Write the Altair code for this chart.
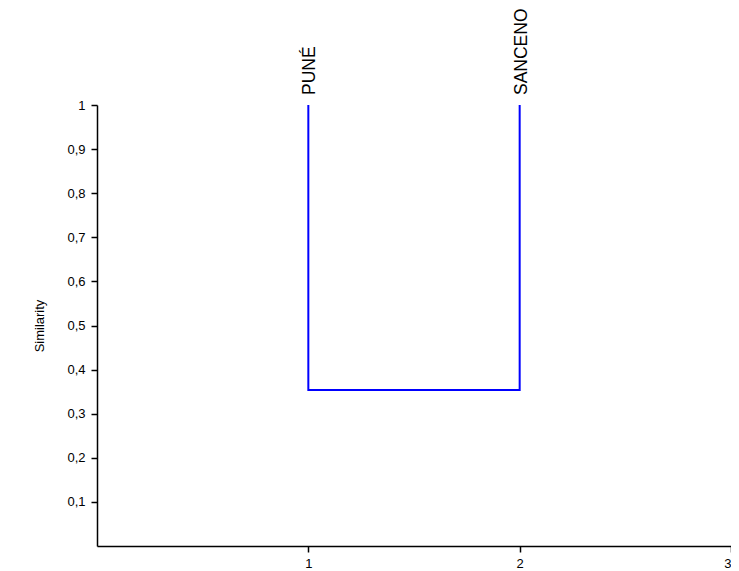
import altair as alt
import pandas as pd

# Leaves of the dendrogram and the merge similarity
leaf_names = ["PUNÉ", "SANCENO"]
leaf_pos = [1, 2]
leaf_sim = [1.0, 1.0]
merge_sim = 0.354

y_ticks = [0.1, 0.2, 0.3, 0.4, 0.5, 0.6, 0.7, 0.8, 0.9, 1.0]
x_ticks = [1, 2, 3]

# Dendrogram path: leaf1 top -> down to merge -> across -> up to leaf2 top
path = pd.DataFrame({
    "x": [leaf_pos[0], leaf_pos[0], leaf_pos[1], leaf_pos[1]],
    "y": [leaf_sim[0], merge_sim, merge_sim, leaf_sim[1]],
    "o": [0, 1, 2, 3],
})
leaves = pd.DataFrame({"x": leaf_pos, "y": leaf_sim, "name": leaf_names})

FONT = "Liberation Sans"

xscale = alt.Scale(domain=[0, 3], nice=False, zero=False)
yscale = alt.Scale(domain=[0, 1], nice=False)

xaxis = alt.Axis(values=x_ticks, format="d", title=None, grid=False,
                 domainColor="black", tickColor="black", domainWidth=1.5,
                 tickWidth=1.5, tickSize=6, labelFontSize=13, labelFont=FONT,
                 labelColor="black", labelPadding=5)
yaxis = alt.Axis(values=y_ticks, title="Similarity", grid=False,
                 labelExpr="replace(format(datum.value, '~g'), '.', ',')",
                 domainColor="black", tickColor="black", domainWidth=1.5,
                 tickWidth=1.5, tickSize=6, labelFontSize=13, labelFont=FONT,
                 labelColor="black", labelPadding=6, titleFont=FONT,
                 titleFontSize=13, titleFontWeight="normal", titleColor="black",
                 titlePadding=20)

lines = alt.Chart(path).mark_line(color="#0000ff", strokeWidth=2, interpolate="linear").encode(
    x=alt.X("x:Q", scale=xscale, axis=xaxis),
    y=alt.Y("y:Q", scale=yscale, axis=yaxis),
    order="o:Q",
)

labels = alt.Chart(leaves).mark_text(
    angle=270, align="left", baseline="middle", dx=10, dy=2, fontSize=17.5,
    font=FONT, color="black"
).encode(
    x=alt.X("x:Q", scale=xscale),
    y=alt.Y("y:Q", scale=yscale),
    text="name:N",
)

chart = (lines + labels).properties(
    width=634, height=441,
    background="white",
    autosize=alt.AutoSizeParams(type="none"),
    padding={"left": 89, "top": 97, "right": 0, "bottom": 26},
).configure_view(strokeWidth=0, stroke=None)

chart.save("out.html", embed_options={"renderer": "svg", "actions": False})
